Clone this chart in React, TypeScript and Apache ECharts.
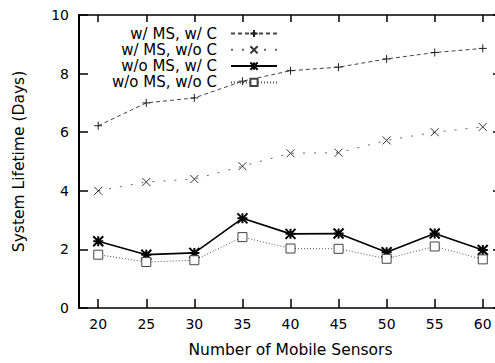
import { useEffect, useRef } from 'react';
import * as echarts from 'echarts';

// Number of mobile sensors (x) and system lifetime in days (y) for each configuration
const sensorCounts = [20, 25, 30, 35, 40, 45, 50, 55, 60];
const withMsWithC = [6.22, 7.0, 7.17, 7.74, 8.1, 8.22, 8.5, 8.72, 8.86];
const withMsNoC = [4.0, 4.3, 4.4, 4.84, 5.28, 5.3, 5.72, 6.0, 6.18];
const noMsWithC = [2.28, 1.82, 1.88, 3.06, 2.53, 2.54, 1.9, 2.54, 1.98];
const noMsNoC = [1.82, 1.57, 1.63, 2.42, 2.03, 2.02, 1.68, 2.1, 1.66];

const seriesNames = ['w/ MS, w/ C', 'w/ MS, w/o C', 'w/o MS, w/ C', 'w/o MS, w/o C'];
const xTickValues = [20, 25, 30, 35, 40, 45, 50, 55, 60];

const FONT = 'DejaVu Sans';

const PLUS = 'path://M0,5L10,5M5,0L5,10';
const CROSS = 'path://M0,0L10,10M10,0L0,10';
const STAR = 'path://M0,0L10,10M10,0L0,10M5,0L5,10M0,5L10,5';

const pairs = (ys: number[]) => sensorCounts.map((x, i) => [x, ys[i]]);

export default function App() {
  const ref = useRef<HTMLDivElement>(null);

  useEffect(() => {
    if (!ref.current) return;
    const chart = echarts.init(ref.current, null, { renderer: 'svg' });

    const axisLine = { show: true, onZero: false, lineStyle: { color: '#000', width: 1.5 } };

    chart.setOption({
      animation: false,
      backgroundColor: '#fff',
      textStyle: { fontFamily: FONT },
      grid: { left: 79, right: 2, top: 15, bottom: 51.5 },
      legend: {
        data: seriesNames,
        orient: 'vertical',
        align: 'right',
        right: 221,
        top: 21,
        itemWidth: 46,
        itemHeight: 9,
        itemGap: 1.3,
        // trailing spacer widens the gap between the label and its line sample
        formatter: (name: string) => `${name}{gap|}`,
        textStyle: {
          fontFamily: FONT,
          fontSize: 15,
          color: '#000',
          lineHeight: 15,
          rich: { gap: { width: 9 } },
        },
      },
      xAxis: [
        {
          type: 'value',
          position: 'bottom',
          min: 18,
          max: 62,
          axisLine,
          splitLine: { show: false },
          axisTick: {
            inside: true,
            length: 9,
            customValues: xTickValues,
            lineStyle: { color: '#000', width: 1.5 },
          },
          axisLabel: {
            customValues: xTickValues,
            margin: 9,
            fontFamily: FONT,
            fontSize: 14,
            color: '#000',
          },
          name: 'Number of Mobile Sensors',
          nameLocation: 'middle',
          nameGap: 34,
          nameTextStyle: { fontFamily: FONT, fontSize: 15.5, color: '#000' },
        },
        {
          type: 'value',
          position: 'top',
          min: 18,
          max: 62,
          axisLine,
          splitLine: { show: false },
          axisTick: {
            inside: true,
            length: 7,
            customValues: xTickValues,
            lineStyle: { color: '#000', width: 1.5 },
          },
          axisLabel: { show: false },
        },
      ],
      yAxis: [
        {
          type: 'value',
          position: 'left',
          min: 0,
          max: 10,
          interval: 2,
          axisLine: { show: true, onZero: false, lineStyle: { color: '#000', width: 2 } },
          splitLine: { show: false },
          axisTick: { inside: true, length: 9, lineStyle: { color: '#000', width: 1.5 } },
          axisLabel: { margin: 10, fontFamily: FONT, fontSize: 14, color: '#000' },
          name: 'System Lifetime (Days)',
          nameLocation: 'middle',
          nameGap: 52,
          nameRotate: 90,
          nameTextStyle: { fontFamily: FONT, fontSize: 15.5, color: '#000' },
        },
        {
          type: 'value',
          position: 'right',
          min: 0,
          max: 10,
          interval: 2,
          axisLine,
          splitLine: { show: false },
          axisTick: { inside: true, length: 9, lineStyle: { color: '#000', width: 1.5 } },
          axisLabel: { show: false },
        },
      ],
      series: [
        {
          name: seriesNames[0],
          type: 'line',
          data: pairs(withMsWithC),
          symbol: PLUS,
          symbolSize: 8,
          itemStyle: { color: '#222', borderColor: '#222', borderWidth: 1 },
          lineStyle: { color: '#444', width: 1, type: [4, 3] },
        },
        {
          name: seriesNames[1],
          type: 'line',
          data: pairs(withMsNoC),
          symbol: CROSS,
          symbolSize: 8,
          itemStyle: { color: '#333', borderColor: '#333', borderWidth: 1 },
          lineStyle: { color: '#666', width: 1, type: [2, 9] },
        },
        {
          name: seriesNames[2],
          type: 'line',
          data: pairs(noMsWithC),
          symbol: STAR,
          symbolSize: 10,
          itemStyle: { color: '#000', borderColor: '#000', borderWidth: 2 },
          lineStyle: { color: '#000', width: 1.6, type: 'solid' },
        },
        {
          name: seriesNames[3],
          type: 'line',
          data: pairs(noMsNoC),
          symbol: 'rect',
          symbolSize: 9,
          itemStyle: { color: '#fff', borderColor: '#444', borderWidth: 1 },
          lineStyle: { color: '#555', width: 1, type: [1, 2] },
        },
      ],
    });

    return () => chart.dispose();
  }, []);

  return (
    <div
      style={{
        position: 'fixed',
        left: 0,
        top: 0,
        width: 495,
        height: 363,
        overflow: 'hidden',
        background: '#fff',
      }}
    >
      <div ref={ref} style={{ width: 504, height: 363 }} />
    </div>
  );
}
